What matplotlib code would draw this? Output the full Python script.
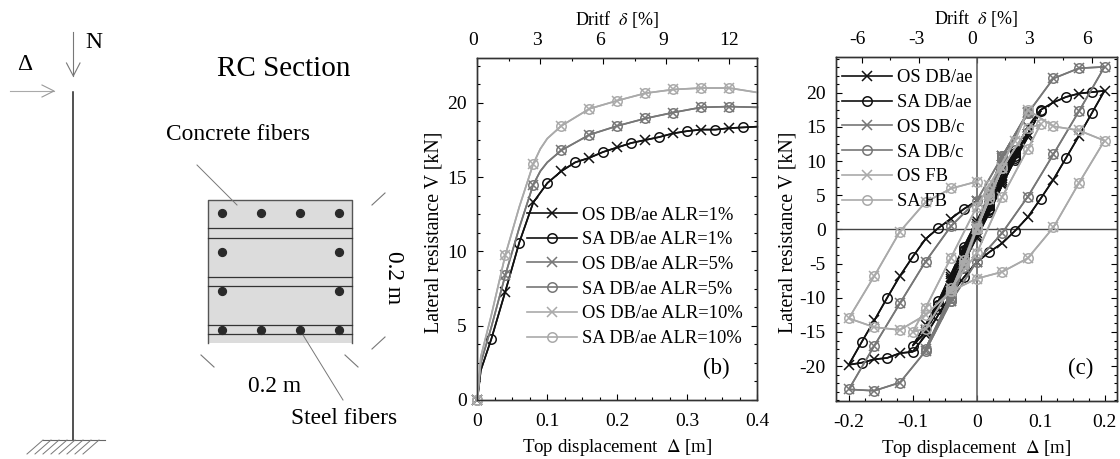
"""
Pushover and cyclic response of the RC column, with a sketch of the model on the left.
"""

import matplotlib
matplotlib.use('Agg')
import matplotlib.pyplot as plt
import numpy as np
from matplotlib.ticker import MultipleLocator
from matplotlib.transforms import ScaledTranslation

plt.rcParams['font.family'] = ['Liberation Serif', 'DejaVu Serif']
plt.rcParams['mathtext.fontset'] = 'stix'
plt.rcParams['axes.unicode_minus'] = False

# panel (b), pushover curves
push_x = [0, 0.005, 0.02, 0.04, 0.06, 0.08, 0.10, 0.12, 0.14, 0.16, 0.18, 0.20, 0.22, 0.24, 0.26, 0.28, 0.30, 0.32, 0.34, 0.36, 0.38, 0.40]
push_alr1 = [0, 2.0, 4.1, 7.3, 10.6, 13.3, 14.6, 15.4, 16.0, 16.3, 16.7, 17.0, 17.3, 17.5, 17.7, 17.95, 18.1, 18.2, 18.2, 18.3, 18.35, 18.4]
push5_x = [0, 0.005, 0.02, 0.04, 0.06, 0.08, 0.09, 0.10, 0.12, 0.16, 0.20, 0.24, 0.28, 0.32, 0.36, 0.40]
push_alr5 = [0, 2.5, 4.9, 8.4, 11.6, 14.5, 15.4, 16.0, 16.8, 17.85, 18.45, 18.95, 19.35, 19.7, 19.75, 19.7]
push_alr10 = [0, 2.9, 5.7, 9.75, 13.0, 15.9, 16.9, 17.6, 18.45, 19.6, 20.15, 20.65, 20.9, 21.0, 21.0, 20.7]

# panel (c), cyclic curves
db_ae_x = [0, .02, .04, .02, 0, -.02, -.04, -.02, 0,
           .02, .04, .06, .08, .06, .04, .02, 0, -.02, -.04, -.06, -.08, -.06, -.04, -.02, 0,
           .02, .04, .06, .08, .10, .08, .06, .04, .02, 0, -.02, -.04, -.06, -.08, -.10, -.08, -.06, -.04, -.02, 0,
           .02, .04, .06, .08, .10, .12, .14, .16, .18, .20, .18, .16, .14, .12, .10, .08, .06, .04, .02, 0,
           -.02, -.04, -.06, -.08, -.10, -.12, -.14, -.16, -.18, -.20, -.18, -.16, -.14, -.12, -.10, -.08, -.06, -.04, -.02, 0]
db_ae_v = [0, 3.4, 7.0, 3.0, -0.5, -3.7, -7.2, -3.2, 0.3,
           3.6, 7.2, 10.8, 13.5, 10.2, 6.6, 2.8, -1.0, -4.5, -7.6, -11.0, -14.7, -11.0, -7.0, -3.0, 0.8,
           4.0, 7.6, 11.2, 14.0, 17.3, 14.0, 10.5, 6.5, 2.5, -1.2, -4.8, -8.2, -11.6, -15.0, -17.0, -14.0, -10.5, -6.5, -2.5, 1.2,
           4.8, 8.2, 11.6, 15.0, 17.5, 18.6, 19.4, 19.9, 20.1, 20.3, 17.0, 13.7, 10.5, 7.3, 4.5, 1.8, -0.2, -2.0, -3.3, -4.8,
           -7.0, -9.5, -12.5, -15.5, -17.9, -18.1, -18.8, -19.0, -19.5, -19.8, -16.5, -13.3, -10.0, -6.8, -4.0, -1.4, 0.2, 1.6, 3.0, 4.2]

db_c_x = [0, .02, .04, .02, 0, -.02, -.04, -.02, 0, .02, .04, .08, .04, 0, -.04, -.08, -.04, 0,
          .04, .08, .12, .16, .20, .16, .12, .08, .04, 0, -.04, -.08, -.12, -.16, -.20, -.16, -.12, -.08, -.04, 0, .04, .08]
db_c_v = [0, 5.5, 10.7, 5.0, 0.0, -5.5, -10.5, -5.0, 0.3, 5.5, 10.7, 17.2, 9.5, 0.0, -10.0, -17.5, -9.5, 0.5,
          10.5, 17.0, 22.1, 23.6, 23.8, 17.3, 11.0, 4.8, -0.5, -4.7, -10.5, -17.8, -22.4, -23.6, -23.4, -17.0, -10.8, -4.7, 0.5, 4.2, 10.7, 17.0]

fb_x = [0, .02, .04, .02, 0, -.02, -.04, -.02, 0, .04, .08, .10, .08, .04, 0, -.04, -.08, -.10, -.08, -.04, 0,
        .02, .06, .08, .12, .16, .20, .16, .12, .08, .04, 0, -.04, -.08, -.12, -.16, -.20, -.16, -.12, -.08, -.04, 0]
fb_v = [0, 4.5, 9.0, 5.0, 0.0, -4.5, -9.0, -5.0, 0.2, 9.0, 14.8, 15.4, 11.8, 4.8, -3.5, -8.5, -14.5, -15.0, -11.5, -4.1, 3.3,
        6.5, 13.0, 17.5, 15.1, 14.5, 13.0, 6.8, 0.3, -4.2, -6.2, -7.2, -9.0, -12.5, -14.7, -14.3, -13.0, -6.8, -0.3, 4.0, 6.0, 7.0]

drift_ticks_b = [0, 3, 6, 9, 12]
drift_ticks_c = [-6, -3, 0, 3, 6]
force_ticks_c = [-20, -15, -10, -5, 0, 5, 10, 15, 20]
col_black = '#111111'
col_mid = '#777777'
col_light = '#aaaaaa'
m_every_os = [i for i, v in enumerate(db_ae_x) if abs(v / 0.04 - round(v / 0.04)) < 1e-6]
m_every_sa = [i for i, v in enumerate(db_ae_x) if abs(v / 0.04 - round(v / 0.04)) > 1e-6]

fig = plt.figure(figsize=(11.2, 4.59), dpi=100)

# sketch of the column and section, in pixel coordinates
sk = fig.add_axes([0, 0, 1, 1], zorder=0)
sk.set_xlim(0, 1120)
sk.set_ylim(459, 0)
sk.axis('off')
sk.plot([73.3, 73.3], [92, 440], color='#222222', lw=1.1)
sk.plot([73.3, 73.3], [32, 76], color='#777777', lw=0.8)
sk.plot([66.5, 73.3, 80], [63, 76, 63], color='#777777', lw=0.8)
sk.plot([10, 54], [91, 91], color='#aaaaaa', lw=0.8)
sk.plot([42, 54, 42], [85, 91, 97], color='#999999', lw=0.8)
sk.plot([43, 105], [440, 440], color='#666666', lw=0.8)
for hx in np.arange(43, 106, 8):
    sk.plot([hx, hx - 16], [440, 454], color='#777777', lw=0.7)
sk.fill([207.5, 352, 352, 207.5], [200, 200, 343, 343], color='#dcdcdc', lw=0)
sk.plot([207.5, 207.5, 352, 352], [343, 200, 200, 343], color='#555555', lw=1.0)
for by in [228, 238, 276.5, 286, 324.5, 334]:
    sk.plot([207.5, 352], [by, by], color='#333333', lw=0.9)
sk.scatter([221.5, 260.5, 299.5, 339, 221.5, 339, 221.5, 339, 221.5, 260.5, 299.5, 339],
           [213, 213, 213, 213, 252, 252, 291, 291, 330, 330, 330, 330], s=32, color='#2a2a2a', zorder=3)
sk.plot([197, 237], [165, 205], color='#777777', lw=0.7)
sk.plot([303, 343], [335, 400], color='#777777', lw=0.7)
for seg in [([372, 385], [205, 193]), ([372, 385], [349, 337]), ([201, 214], [355, 367]), ([345, 358], [355, 367])]:
    sk.plot(seg[0], seg[1], color='#777777', lw=0.8)
sk.text(94, 43, 'N', fontsize=17, ha='center', va='center')
sk.text(25, 65, '\u0394', fontsize=17, ha='center', va='center')
sk.text(284, 69, 'RC Section', fontsize=21, ha='center', va='center')
sk.text(238, 134, 'Concrete fibers', fontsize=16.8, ha='center', va='center')
sk.text(344, 418, 'Steel fibers', fontsize=16.8, ha='center', va='center')
sk.text(275, 386, '0.2 m', fontsize=16.8, ha='center', va='center')
sk.text(394, 278, '0.2 m', fontsize=16.8, ha='center', va='center', rotation=-90)


def setup_axes(rect, xlim, ylim, top_lim, top_label, top_ticks, shifts, label_x):
    ax = fig.add_axes([rect[0] / 1120, 1 - rect[3] / 459, (rect[2] - rect[0]) / 1120, (rect[3] - rect[1]) / 459], zorder=2)
    ax.set_xlim(xlim)
    ax.set_ylim(ylim)
    ax.xaxis.set_major_locator(MultipleLocator(0.1))
    ax.xaxis.set_minor_locator(MultipleLocator(0.025))
    ax.yaxis.set_major_locator(MultipleLocator(5))
    ax.yaxis.set_minor_locator(MultipleLocator(1.25))
    ax.xaxis.set_major_formatter(lambda v, p: '0' if abs(v) < 1e-9 else f'{v:.1f}')
    ax.tick_params(which='both', direction='in', right=True, labelsize=14)
    ax.tick_params(axis='x', pad=9.5)
    ax.tick_params(axis='y', pad=7.5)
    ax.tick_params(which='major', length=4, width=0.8)
    ax.tick_params(which='minor', length=2, width=0.8)
    ax.set_xlabel('Top displacement  $\\Delta$ [m]', fontsize=13.6, labelpad=5)
    ax.set_ylabel('Lateral resistance V [kN]', fontsize=14.3)
    ax.yaxis.set_label_coords((label_x - rect[0]) / (rect[2] - rect[0]), 0.49)
    top = ax.twiny()
    top.set_xlim(top_lim)
    top.set_xticks(top_ticks)
    top.xaxis.set_minor_locator(MultipleLocator(1.5))
    top.tick_params(which='both', direction='in', labelsize=14, pad=7)
    top.tick_params(which='major', length=4, width=0.8)
    top.tick_params(which='minor', length=2, width=0.8)
    top.set_xlabel(top_label, fontsize=13, labelpad=5)
    for lab, s in zip(top.get_xticklabels(), shifts):
        lab.set_transform(lab.get_transform() + ScaledTranslation(s / 100, 0, fig.dpi_scale_trans))
    for a in (ax, top):
        for sp in a.spines.values():
            sp.set_linewidth(1.0)
            sp.set_color('#333333')
    ax.set_zorder(top.get_zorder() + 1)
    ax.patch.set_visible(False)
    return ax


# panel (b)
ax_b = setup_axes((477.3, 58.3, 757.3, 400), (0, 0.4), (0, 23), (0, 13.33),
                  'Dritf  $\\delta$ [%]', drift_ticks_b, [-4, -3.4, -3, -3.3, 0], 443)
every_b = [0, 3, 5, 8, 9, 10, 11, 12, 13, 14]
ax_b.plot(push_x, push_alr1, color=col_black, lw=1.2, marker='x', ms=6.5, mew=1.1, markevery=[0, 3, 5, 7, 9, 11, 13, 15, 17, 19], label='OS DB/ae ALR=1%', clip_on=False)
ax_b.plot(push_x, push_alr1, color=col_black, lw=1.2, marker='o', ms=6.8, mew=1.1, mfc='none', markevery=[2, 4, 6, 8, 10, 12, 14, 16, 18, 20], label='SA DB/ae ALR=1%')
ax_b.plot(push5_x, push_alr5, color=col_mid, lw=1.2, marker='x', ms=6.5, mew=1.1, markevery=every_b, label='OS DB/ae ALR=5%', clip_on=False)
ax_b.plot(push5_x, push_alr5, color=col_mid, lw=1.2, marker='o', ms=6.8, mew=1.1, mfc='none', markevery=every_b, label='SA DB/ae ALR=5%', clip_on=False)
ax_b.plot(push5_x, push_alr10, color=col_light, lw=1.2, marker='x', ms=6.5, mew=1.1, markevery=every_b, label='OS DB/ae ALR=10%', clip_on=False)
ax_b.plot(push5_x, push_alr10, color=col_light, lw=1.2, marker='o', ms=6.8, mew=1.1, mfc='none', markevery=every_b, label='SA DB/ae ALR=10%', clip_on=False)
ax_b.legend(loc='upper left', bbox_to_anchor=(49.7 / 280, 1 - 148.2 / 341.7), borderaxespad=0, borderpad=0, frameon=False,
            fontsize=13.3, handlelength=2.7, handletextpad=0.27, labelspacing=0.418, numpoints=1)
ax_b.text(0.341, 2.1, '(b)', fontsize=16.5, ha='center', va='center')

# panel (c)
ax_c = setup_axes((836, 57.3, 1117.3, 401), (-0.22, 0.22), (-25.1, 25.2), (-7.33, 7.33),
                  'Drift  $\\delta$ [%]', drift_ticks_c, [-4, -3, -5, -5, -5], 798)
ax_c.set_yticks(force_ticks_c)
ax_c.axhline(0, color='#444444', lw=1.0)
ax_c.axvline(0, color='#666666', lw=1.2)
ax_c.plot(db_ae_x, db_ae_v, color=col_black, lw=1.2, marker='x', ms=6.5, mew=1.1, markevery=m_every_os, label='OS DB/ae')
ax_c.plot(db_ae_x, db_ae_v, color=col_black, lw=1.2, marker='o', ms=6.8, mew=1.1, mfc='none', markevery=m_every_sa, label='SA DB/ae')
ax_c.plot(db_c_x, db_c_v, color=col_mid, lw=1.2, marker='x', ms=6.5, mew=1.1, label='OS DB/c')
ax_c.plot(db_c_x, db_c_v, color=col_mid, lw=1.2, marker='o', ms=6.8, mew=1.1, mfc='none', label='SA DB/c')
ax_c.plot(fb_x, fb_v, color=col_light, lw=1.2, marker='x', ms=6.5, mew=1.1, label='OS FB')
ax_c.plot(fb_x, fb_v, color=col_light, lw=1.2, marker='o', ms=6.8, mew=1.1, mfc='none', label='SA FB')
ax_c.legend(loc='upper left', bbox_to_anchor=(5.7 / 281.3, 1 - 12.2 / 343.7), borderaxespad=0, borderpad=0, frameon=False,
            fontsize=13.3, handlelength=2.7, handletextpad=0.27, labelspacing=0.418, numpoints=1)
ax_c.text(0.1635, -20.3, '(c)', fontsize=16.5, ha='center', va='center')

fig.savefig('out.png', dpi=100)
